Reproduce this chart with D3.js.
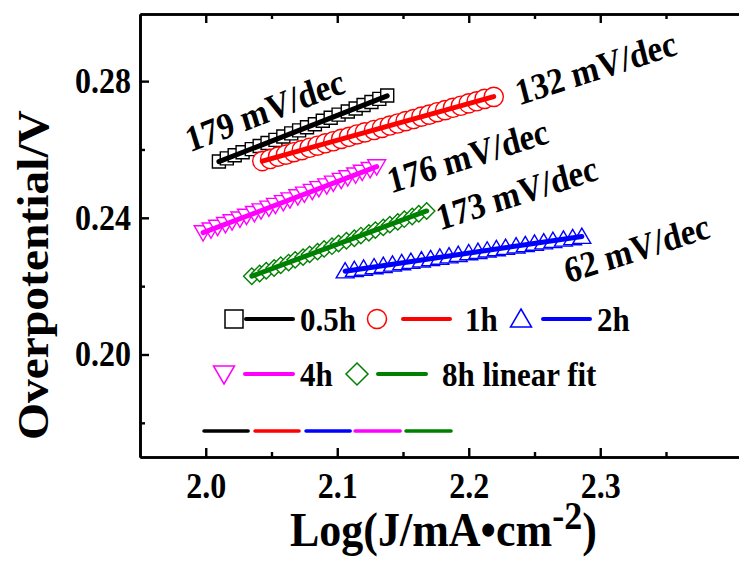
<!DOCTYPE html>
<html>
<head>
<meta charset="utf-8">
<script src="https://cdn.jsdelivr.net/npm/d3@7"></script>
<style>
  body { margin: 0; background: #fff; }
  svg { display: block; }
  text { font-family: "Liberation Serif", "Times New Roman", serif; font-weight: bold; fill: #000; }
</style>
</head>
<body>
<div id="tafel"></div>
<script>
// Tafel data: log(J) and overpotential (V)
const seriesNames = ["0.5h", "1h", "2h", "4h", "8h"];
const seriesColors = ["#000000", "#ff0000", "#0000ff", "#ff00ff", "#008000"];
const seriesShapes = ["square", "circle", "triangleUp", "triangleDown", "diamond"];

const x05h = [2.010, 2.016, 2.022, 2.028, 2.035, 2.041, 2.047, 2.053, 2.059, 2.065, 2.071,
              2.077, 2.083, 2.089, 2.095, 2.101, 2.108, 2.114, 2.120, 2.126, 2.132, 2.138];
const y05h = [0.2565, 0.2574, 0.2583, 0.2592, 0.2601, 0.2610, 0.2619, 0.2628, 0.2638, 0.2647, 0.2656,
              0.2665, 0.2674, 0.2684, 0.2693, 0.2702, 0.2711, 0.2720, 0.2730, 0.2739, 0.2748, 0.2758];

const x1h = [2.043, 2.049, 2.055, 2.061, 2.067, 2.073, 2.079, 2.085, 2.091, 2.097, 2.103, 2.109, 2.115, 2.121, 2.128,
             2.134, 2.140, 2.146, 2.152, 2.158, 2.164, 2.170, 2.176, 2.182, 2.188, 2.194, 2.200, 2.206, 2.212, 2.219];
const y1h = [0.2566, 0.2572, 0.2579, 0.2585, 0.2592, 0.2598, 0.2605, 0.2611, 0.2618, 0.2624, 0.2631, 0.2637, 0.2644, 0.2650, 0.2657,
             0.2663, 0.2670, 0.2676, 0.2683, 0.2689, 0.2696, 0.2702, 0.2709, 0.2715, 0.2722, 0.2728, 0.2735, 0.2741, 0.2748, 0.2754];

const x2h = [2.106, 2.113, 2.120, 2.128, 2.135, 2.142, 2.149, 2.156, 2.164, 2.171, 2.178, 2.185, 2.192,
             2.200, 2.207, 2.214, 2.221, 2.228, 2.236, 2.243, 2.250, 2.257, 2.264, 2.272, 2.279, 2.286];
const y2h = [0.2244, 0.2248, 0.2252, 0.2256, 0.2260, 0.2264, 0.2268, 0.2272, 0.2276, 0.2280, 0.2284, 0.2288, 0.2292,
             0.2297, 0.2301, 0.2305, 0.2309, 0.2313, 0.2317, 0.2321, 0.2325, 0.2329, 0.2333, 0.2337, 0.2341, 0.2345];

const x4h = [1.998, 2.004, 2.009, 2.015, 2.020, 2.026, 2.031, 2.037, 2.042, 2.048, 2.053, 2.059, 2.064,
             2.070, 2.075, 2.081, 2.086, 2.092, 2.097, 2.103, 2.108, 2.114, 2.119, 2.125, 2.130];
const y4h = [0.2357, 0.2365, 0.2373, 0.2381, 0.2389, 0.2397, 0.2405, 0.2413, 0.2421, 0.2429, 0.2437, 0.2445, 0.2453,
             0.2462, 0.2470, 0.2478, 0.2486, 0.2494, 0.2502, 0.2510, 0.2518, 0.2526, 0.2534, 0.2542, 0.2550];

const x8h = [2.035, 2.041, 2.046, 2.052, 2.057, 2.063, 2.068, 2.074, 2.079, 2.085, 2.090, 2.096, 2.101,
             2.107, 2.113, 2.118, 2.124, 2.129, 2.135, 2.140, 2.146, 2.151, 2.157, 2.162, 2.168];
const y8h = [0.2229, 0.2237, 0.2245, 0.2253, 0.2261, 0.2269, 0.2277, 0.2285, 0.2293, 0.2301, 0.2309, 0.2317, 0.2325,
             0.2333, 0.2340, 0.2348, 0.2356, 0.2364, 0.2372, 0.2380, 0.2388, 0.2396, 0.2404, 0.2412, 0.2420];

// Tafel slope labels (anchor = start of baseline, in data units)
const slopeLabels = ["179 mV/dec", "132 mV/dec", "62 mV/dec", "176 mV/dec", "173 mV/dec"];
const slopeLabelX = [1.9880, 2.2383, 2.2755, 2.1409, 2.1782];
const slopeLabelY = [0.2591, 0.2729, 0.2208, 0.2471, 0.2363];
const slopeLabelAngle = [-19, -16, -16, -16, -16];

// short coloured dashes lying along the bottom of the plot
const dashX0 = [1.9987, 2.0375, 2.0763, 2.1136, 2.1523];
const dashX1 = [2.0322, 2.0709, 2.1098, 2.1478, 2.1865];
const dashY = 0.1776;

const xMajor = [2.0, 2.1, 2.2, 2.3];
const xMinor = [2.05, 2.15, 2.25, 2.35];
const yMajor = [0.20, 0.24, 0.28];
const yMinor = [0.18, 0.22, 0.26];

// the original figure is a little stretched vertically, text included
const textStretch = 1.12;

// Step 1: set up the chart
//=========================
const svgWidth = 739, svgHeight = 561;
const margin = { top: 14, left: 140, bottom: 104, right: -7 };
const width = svgWidth - margin.left - margin.right;
const height = svgHeight - margin.top - margin.bottom;

const svg = d3.select("#tafel").append("svg")
  .attr("width", svgWidth)
  .attr("height", svgHeight);

const chartGroup = svg.append("g")
  .attr("transform", `translate(${margin.left}, ${margin.top})`);

// Step 2: scales
//=========================
const x = d3.scaleLinear().domain([1.95, 1.95 + width / 1315]).range([0, width]);
const y = d3.scaleLinear().domain([0.17, 0.17 + height / 3417]).range([height, 0]);

// Step 3: axes (ticks point inward)
//=========================
function styleAxis(size) {
  return g => {
    g.select(".domain").attr("stroke-width", 2.6);
    g.selectAll(".tick line").attr("stroke-width", 2.4);
    g.selectAll("text")
      .attr("font-family", null)
      .attr("font-size", size)
      .attr("fill", "#000")
      .attr("transform", `scale(1, ${textStretch})`);
  };
}

chartGroup.append("g")
  .attr("transform", `translate(0, ${height})`)
  .call(d3.axisBottom(x).tickValues(xMajor).tickFormat(d3.format(".1f"))
    .tickSizeInner(-9).tickSizeOuter(0).tickPadding(14))
  .call(styleAxis(32));
chartGroup.append("g")
  .attr("transform", `translate(0, ${height})`)
  .call(d3.axisBottom(x).tickValues(xMinor).tickFormat("").tickSizeInner(-5).tickSizeOuter(0))
  .call(styleAxis(32));

chartGroup.append("g")
  .call(d3.axisTop(x).tickValues(xMajor).tickFormat("").tickSizeInner(-9).tickSizeOuter(0))
  .call(styleAxis(32));
chartGroup.append("g")
  .call(d3.axisTop(x).tickValues(xMinor).tickFormat("").tickSizeInner(-5).tickSizeOuter(0))
  .call(styleAxis(32));

chartGroup.append("g")
  .call(d3.axisLeft(y).tickValues(yMajor).tickFormat(d3.format(".2f"))
    .tickSizeInner(-9).tickSizeOuter(0).tickPadding(9))
  .call(styleAxis(32));
chartGroup.append("g")
  .call(d3.axisLeft(y).tickValues(yMinor).tickFormat("").tickSizeInner(-5).tickSizeOuter(0))
  .call(styleAxis(32));

// Step 4: markers
//=========================
function shapePath(shape, s) {
  switch (shape) {
    case "square": return `M${-s},${-s}H${s}V${s}H${-s}Z`;
    case "circle": return `M${-s},0A${s},${s} 0 1,0 ${s},0A${s},${s} 0 1,0 ${-s},0Z`;
    case "triangleUp": return `M0,${-s * 1.0}L${s * 1.05},${s * 0.8}L${-s * 1.05},${s * 0.8}Z`;
    case "triangleDown": return `M0,${s * 1.0}L${s * 1.05},${-s * 0.8}L${-s * 1.05},${-s * 0.8}Z`;
    case "diamond": return `M0,${-s}L${s},0L0,${s}L${-s},0Z`;
  }
}
const markerSize = { square: 6.5, circle: 9.6, triangleUp: 8.5, triangleDown: 8.5, diamond: 8.2 };

const allX = [x05h, x1h, x2h, x4h, x8h];
const allY = [y05h, y1h, y2h, y4h, y8h];
const dataReady = seriesNames.map((name, i) => ({
  name: name,
  color: seriesColors[i],
  shape: seriesShapes[i],
  values: allX[i].map((v, j) => ({ logJ: v, eta: allY[i][j] }))
}));

dataReady.forEach(s => {
  chartGroup.append("g")
    .selectAll("path")
    .data(s.values)
    .enter()
    .append("path")
    .attr("transform", d => `translate(${x(d.logJ)}, ${y(d.eta)})`)
    .attr("d", shapePath(s.shape, markerSize[s.shape]))
    .attr("fill", "#fff")
    .attr("stroke", s.color)
    .attr("stroke-width", 1.4);
});

// Step 5: linear fits
//=========================
dataReady.forEach(s => {
  const mx = d3.mean(s.values, d => d.logJ), my = d3.mean(s.values, d => d.eta);
  const slope = d3.sum(s.values, d => (d.logJ - mx) * (d.eta - my)) / d3.sum(s.values, d => (d.logJ - mx) ** 2);
  const ends = d3.extent(s.values, d => d.logJ).map(v => ({ logJ: v, eta: my + slope * (v - mx) }));
  chartGroup.append("path")
    .attr("d", d3.line().x(d => x(d.logJ)).y(d => y(d.eta))(ends))
    .attr("stroke", s.color)
    .attr("stroke-width", 5)
    .attr("stroke-linecap", "round")
    .attr("fill", "none");
});

// coloured dashes near the bottom
chartGroup.append("g")
  .selectAll("line")
  .data(dashX0)
  .enter()
  .append("line")
  .attr("x1", d => x(d))
  .attr("x2", (d, i) => x(dashX1[i]))
  .attr("y1", y(dashY))
  .attr("y2", y(dashY))
  .attr("stroke", (d, i) => seriesColors[i])
  .attr("stroke-width", 3.6)
  .attr("stroke-linecap", "round");

// Step 6: slope labels
//=========================
chartGroup.append("g")
  .selectAll("text")
  .data(slopeLabels)
  .enter()
  .append("text")
  .attr("transform", (d, i) =>
    `translate(${x(slopeLabelX[i])}, ${y(slopeLabelY[i])}) scale(1, ${textStretch}) rotate(${slopeLabelAngle[i]})`)
  .attr("font-size", 33)
  .text(d => d);

// Step 7: legend
//=========================
const legendRows = [
  [{ i: 0, mx: 94, lx: [106, 153], tx: 160 }, { i: 1, mx: 237, lx: [263, 310], tx: 325 }, { i: 2, mx: 381, lx: [403, 450], tx: 457 }],
  [{ i: 3, mx: 84, lx: [105, 153], tx: 160 }, { i: 4, mx: 217, lx: [238, 286], tx: 302 }]
];
const legendRowY = [305, 360];
const legendText = ["0.5h", "1h", "2h", "4h", "8h linear fit"];
const legendMarker = { square: 9, circle: 9.5, triangleUp: 10, triangleDown: 10, diamond: 11 };

legendRows.forEach((row, r) => {
  const ly = legendRowY[r];
  row.forEach(item => {
    const s = dataReady[item.i];
    chartGroup.append("path")
      .attr("transform", `translate(${item.mx}, ${ly})`)
      .attr("d", shapePath(s.shape, legendMarker[s.shape]))
      .attr("fill", "#fff")
      .attr("stroke", s.color)
      .attr("stroke-width", 1.5);
    chartGroup.append("line")
      .attr("x1", item.lx[0]).attr("x2", item.lx[1])
      .attr("y1", ly).attr("y2", ly)
      .attr("stroke", s.color)
      .attr("stroke-width", 4)
      .attr("stroke-linecap", "round");
    chartGroup.append("text")
      .attr("transform", `translate(${item.tx}, ${ly + 12}) scale(1, ${textStretch})`)
      .attr("font-size", 31)
      .text(legendText[item.i]);
  });
});

// Step 8: axis titles
//=========================
const xTitle = svg.append("text")
  .attr("transform", `translate(290, 546) scale(1, ${textStretch})`)
  .attr("font-size", 44);
xTitle.append("tspan").text("Log(J/mA\u2022cm");
xTitle.append("tspan").attr("font-size", 36).attr("dy", -15).text("-2");
xTitle.append("tspan").attr("dy", 15).text(")");

svg.append("text")
  .attr("transform", `translate(48, 275) scale(1, ${textStretch - 0.04}) rotate(-90)`)
  .attr("text-anchor", "middle")
  .attr("font-size", 44)
  .text("Overpotential/V");
</script>
</body>
</html>
